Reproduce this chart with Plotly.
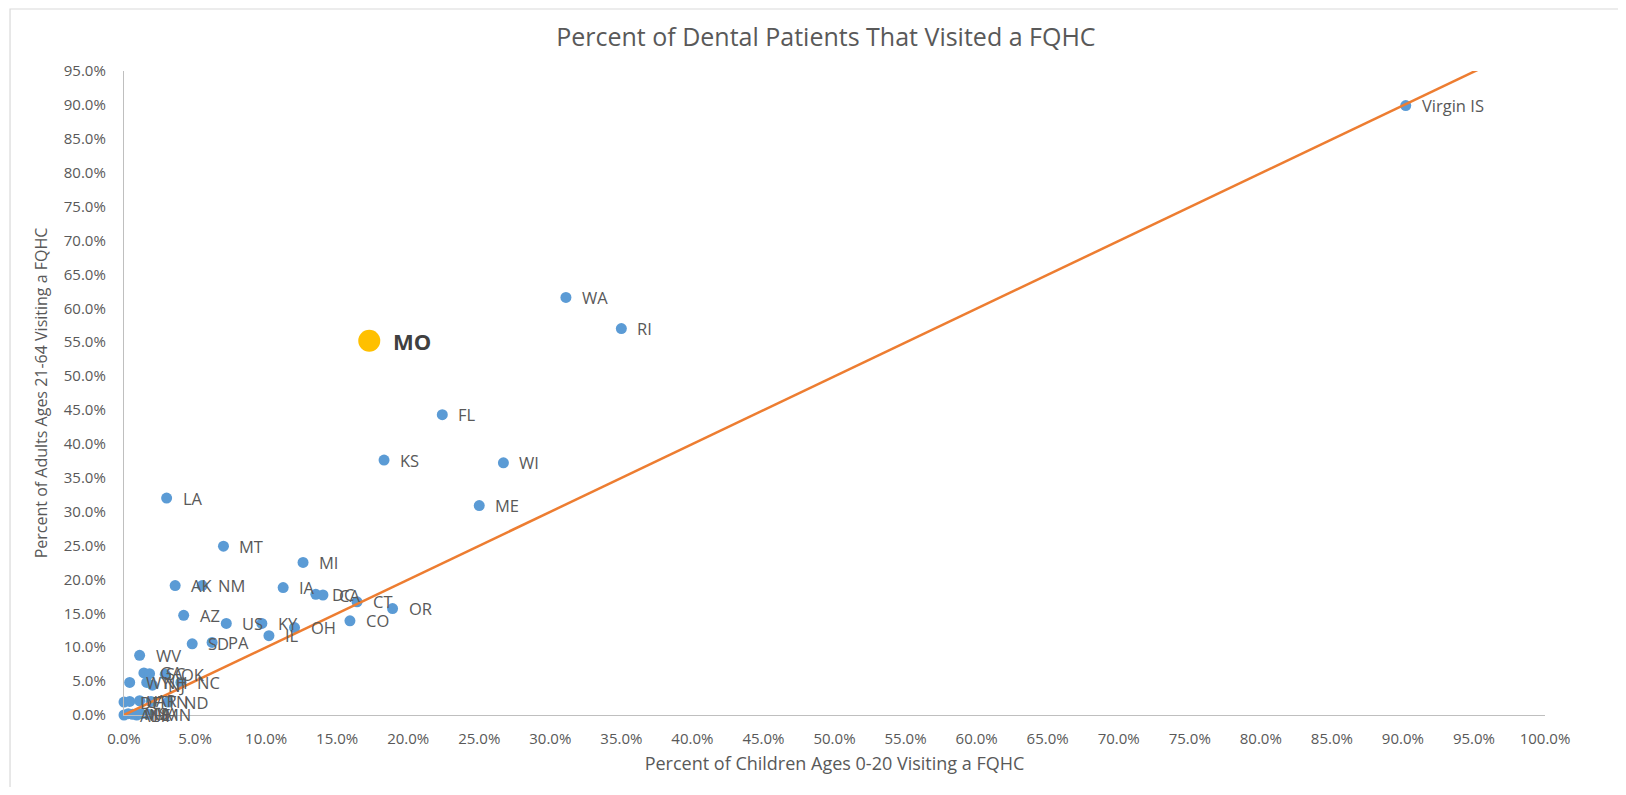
import plotly.graph_objects as go

# ---- data (fractions) ----
states = ["Virgin IS", "WA", "RI", "FL", "KS", "WI", "ME", "LA", "MT", "MI",
          "AK", "NM", "IA", "DC", "CA", "CT", "OR", "CO", "AZ", "US",
          "KY", "IL", "OH", "SD", "PA", "WV",
          "GA", "SC", "OK", "WY", "NH", "NC", "NJ",
          "DE", "UT", "AR", "TN", "ND",
          "AL", "MS", "NE", "HI", "VA", "MN"]
child_pct = [0.902, 0.311, 0.350, 0.224, 0.183, 0.267, 0.250, 0.030, 0.070, 0.126,
             0.036, 0.055, 0.112, 0.135, 0.140, 0.164, 0.189, 0.159, 0.042, 0.072,
             0.097, 0.102, 0.120, 0.048, 0.062, 0.011,
             0.014, 0.018, 0.029, 0.004, 0.016, 0.040, 0.020,
             0.000, 0.004, 0.011, 0.019, 0.031,
             0.000, 0.003, 0.006, 0.009, 0.012, 0.017]
adult_pct = [0.899, 0.616, 0.570, 0.443, 0.376, 0.372, 0.309, 0.320, 0.249, 0.225,
             0.191, 0.191, 0.188, 0.178, 0.177, 0.167, 0.157, 0.139, 0.147, 0.135,
             0.135, 0.117, 0.129, 0.105, 0.107, 0.088,
             0.062, 0.061, 0.060, 0.048, 0.048, 0.048, 0.044,
             0.019, 0.020, 0.021, 0.020, 0.019,
             0.000, 0.002, 0.001, 0.000, 0.002, 0.001]

mo_label = "MO"
mo_child = 0.1726
mo_adult = 0.552

trend_slope = 0.999
trend_intercept = 0.0
trend_x = [0.0, 1.0]
trend_y = [trend_intercept + trend_slope * v for v in trend_x]

x_ticks = [i * 0.05 for i in range(21)]
y_ticks = [i * 0.05 for i in range(20)]

FONT = "Open Sans"
GRAY = "#595959"

fig = go.Figure()
fig.add_trace(go.Scatter(
    x=child_pct, y=adult_pct, mode="markers",
    marker=dict(color="#5B9BD5", size=11, line=dict(width=0)),
    hoverinfo="text", text=states, showlegend=False, cliponaxis=False))
fig.add_trace(go.Scatter(
    x=[mo_child], y=[mo_adult], mode="markers",
    marker=dict(color="#FFC000", size=22, line=dict(width=0)),
    hoverinfo="text", text=[mo_label], showlegend=False))
fig.add_trace(go.Scatter(
    x=trend_x, y=trend_y, mode="lines",
    line=dict(color="#ED7D31", width=2.5),
    hoverinfo="skip", showlegend=False))

annotations = []
for s, xv, yv in zip(states, child_pct, adult_pct):
    annotations.append(dict(
        x=xv, y=yv, xref="x", yref="y", text=s, showarrow=False,
        xanchor="left", yanchor="middle", xshift=14,
        font=dict(family=FONT, size=16.5, color=GRAY)))
annotations.append(dict(
    x=mo_child, y=mo_adult, xref="x", yref="y", text="<b>" + mo_label + "</b>",
    showarrow=False, xanchor="left", yanchor="middle", xshift=22,
    font=dict(family=FONT, size=22, color="#404040")))

fig.update_layout(
    width=1610, height=779,
    margin=dict(l=116, r=73, t=63, b=72),
    paper_bgcolor="white", plot_bgcolor="white",
    title=dict(text="Percent of Dental Patients That Visited a FQHC",
               x=0.508, xanchor="center", y=0.963, yanchor="middle",
               font=dict(family=FONT, size=25, color=GRAY)),
    annotations=annotations,
    shapes=[dict(type="rect", xref="paper", yref="paper",
                 x0=-0.0802, x1=1.1, y0=-0.2, y1=1.0963,
                 line=dict(color="#D9D9D9", width=1.2), layer="below")],
    xaxis=dict(range=[0, 1.0], tickvals=x_ticks, tickformat=".1%",
               showgrid=False, zeroline=False, showline=True,
               linecolor="#BFBFBF", linewidth=1.3, ticks="",
               ticklabelstandoff=10,
               tickfont=dict(family=FONT, size=15, color=GRAY),
               title=dict(text="Percent of Children Ages 0-20 Visiting a FQHC",
                          font=dict(family=FONT, size=18, color=GRAY),
                          standoff=10)),
    yaxis=dict(range=[0, 0.95], tickvals=y_ticks, tickformat=".1%",
               showgrid=False, zeroline=False, showline=True,
               linecolor="#BFBFBF", linewidth=1.3, ticks="",
               ticklabelstandoff=14,
               tickfont=dict(family=FONT, size=15, color=GRAY),
               title=dict(text="Percent of Adults Ages 21-64 Visiting a FQHC",
                          font=dict(family=FONT, size=16, color=GRAY),
                          standoff=12)),
)

fig.write_html("out.html")
